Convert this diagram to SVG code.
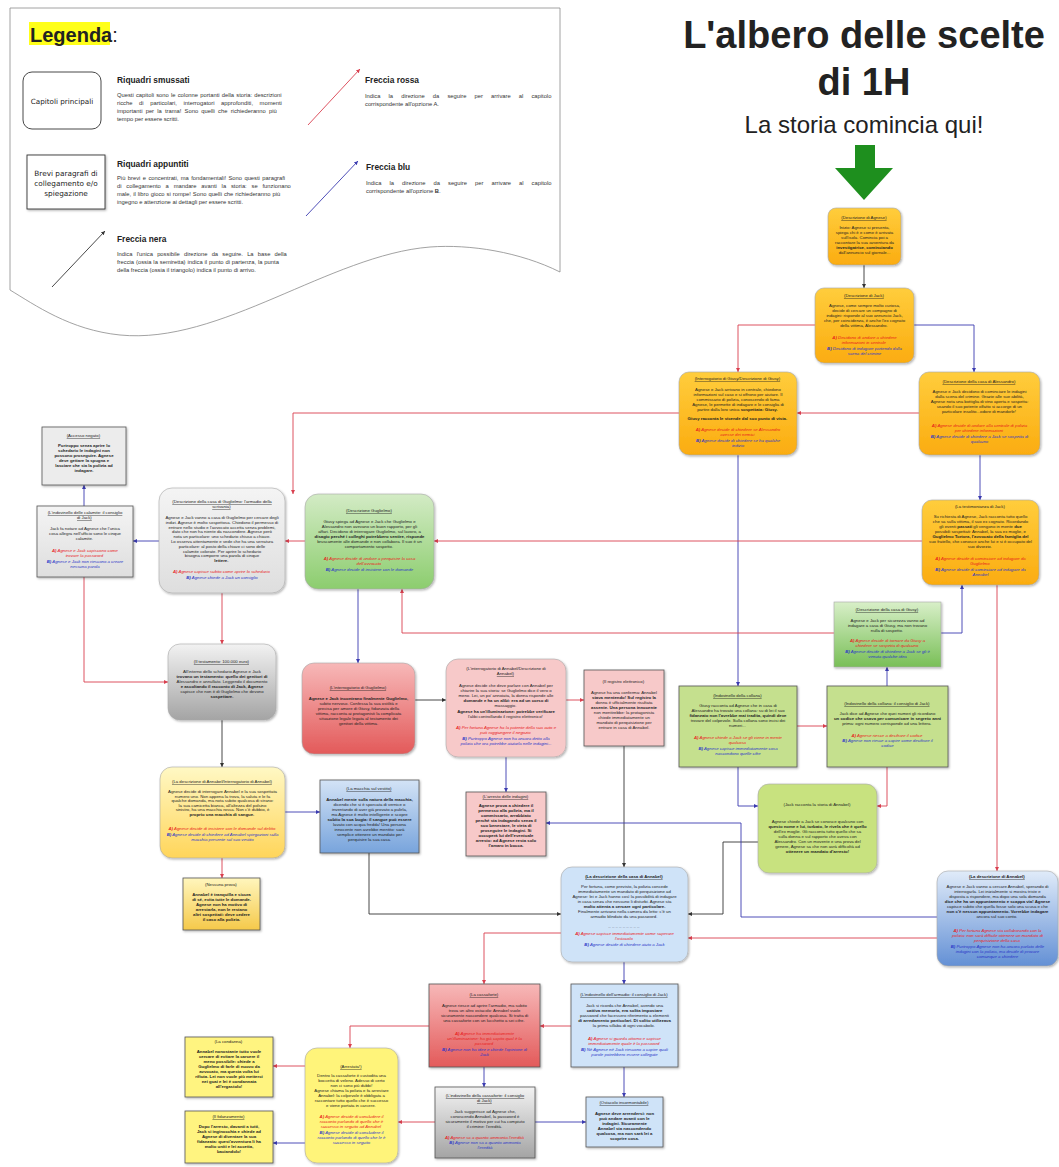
<svg xmlns="http://www.w3.org/2000/svg" width="1059" height="1167" viewBox="0 0 1059 1167">
<style>
.t{font-family:"Liberation Sans",Arial,sans-serif;font-size:4.3px;text-anchor:middle;fill:#222}
.u{text-decoration:underline}
.b{font-weight:bold}
.ra{fill:#e8201c;font-style:italic}
.bl{fill:#2a35c8;font-style:italic}
.lg{font-family:"Liberation Sans",Arial,sans-serif;fill:#222}
.lgd{font-family:"Liberation Sans",Arial,sans-serif;font-size:5.8px;fill:#333}
.cr{stroke:#d9404f;stroke-width:0.9;fill:none;marker-end:url(#mr)}
.cb{stroke:#3b3bb0;stroke-width:0.9;fill:none;marker-end:url(#mb)}
.ck{stroke:#333;stroke-width:0.9;fill:none;marker-end:url(#mk)}
.rr{stroke:#a8a8a8;stroke-width:0.6;filter:url(#sh)}
.pr{stroke:#555;stroke-width:0.8;filter:url(#sh)}
</style>
<defs>
<filter id="sh" x="-10%" y="-10%" width="125%" height="125%"><feDropShadow dx="1" dy="1.2" stdDeviation="0.8" flood-color="#000" flood-opacity="0.3"/></filter>
<marker id="mr" markerUnits="userSpaceOnUse" markerWidth="5" markerHeight="5" refX="4" refY="2" orient="auto"><path d="M0,0 L4,2 L0,4 z" fill="#d9404f"/></marker>
<marker id="mb" markerUnits="userSpaceOnUse" markerWidth="5" markerHeight="5" refX="4" refY="2" orient="auto"><path d="M0,0 L4,2 L0,4 z" fill="#3b3bb0"/></marker>
<marker id="mk" markerUnits="userSpaceOnUse" markerWidth="5" markerHeight="5" refX="4" refY="2" orient="auto"><path d="M0,0 L4,2 L0,4 z" fill="#333"/></marker>
<linearGradient id="gOr" x1="0" y1="0" x2="0" y2="1"><stop offset="0" stop-color="#ffcd3c"/><stop offset="1" stop-color="#fbac10"/></linearGradient>
<linearGradient id="gGr" x1="0" y1="0" x2="0" y2="1"><stop offset="0" stop-color="#d3ebc5"/><stop offset="1" stop-color="#8ccd6e"/></linearGradient>
<linearGradient id="gGr2" x1="0" y1="0" x2="0" y2="1"><stop offset="0" stop-color="#d8efc8"/><stop offset="1" stop-color="#79bf57"/></linearGradient>
<linearGradient id="gRd" x1="0" y1="0" x2="0" y2="1"><stop offset="0" stop-color="#f7b8b8"/><stop offset="1" stop-color="#e35a5a"/></linearGradient>
<linearGradient id="gGy1" x1="0" y1="0" x2="0" y2="1"><stop offset="0" stop-color="#f4f4f4"/><stop offset="1" stop-color="#dedede"/></linearGradient>
<linearGradient id="gGy2" x1="0" y1="0" x2="0" y2="1"><stop offset="0" stop-color="#f2f2f2"/><stop offset="1" stop-color="#a4a4a4"/></linearGradient>
<linearGradient id="gYl" x1="0" y1="0" x2="0" y2="1"><stop offset="0" stop-color="#fff8c4"/><stop offset="1" stop-color="#ffd55a"/></linearGradient>
<linearGradient id="gYl2" x1="0" y1="0" x2="0" y2="1"><stop offset="0" stop-color="#fff6bd"/><stop offset="1" stop-color="#f5c94a"/></linearGradient>
<linearGradient id="gBl" x1="0" y1="0" x2="0" y2="1"><stop offset="0" stop-color="#d3e3f6"/><stop offset="1" stop-color="#78a4dc"/></linearGradient>
<linearGradient id="gBl2" x1="0" y1="0" x2="0" y2="1"><stop offset="0" stop-color="#e0ebf9"/><stop offset="1" stop-color="#6390d5"/></linearGradient>
</defs>
<rect width="1059" height="1167" fill="#fff"/>

<!-- Legend -->
<g id="legend">
<path d="M10,8 L560,8 L560,272 C520,252 470,244 430,247 C330,255 220,345 120,335 C70,330 35,305 10,290 Z" fill="#fff" stroke="#8a8a8a" stroke-width="0.8"/>
<rect x="29" y="22" width="81" height="23" fill="#ffff1a"/>
<text class="lg" x="30" y="42" font-size="20" font-weight="bold">Legenda<tspan font-weight="normal">:</tspan></text>
<rect x="23" y="72" width="78" height="57" rx="9" fill="#fff" stroke="#333" stroke-width="0.9"/>
<text x="62" y="104" font-family="DejaVu Sans, sans-serif" font-size="7.2" text-anchor="middle" fill="#222">Capitoli principali</text>
<rect x="27" y="155" width="78" height="54" fill="#fff" stroke="#333" stroke-width="0.9" filter="url(#sh)"/>
<text font-family="DejaVu Sans, sans-serif" font-size="7.3" text-anchor="middle" fill="#222"><tspan x="66" y="176">Brevi paragrafi di</tspan><tspan x="66" y="186">collegamento e/o</tspan><tspan x="66" y="196">spiegazione</tspan></text>
<text class="lg" x="117" y="83" font-size="8.4" font-weight="bold">Riquadri smussati</text>
<text class="lgd"><tspan x="117" y="97" word-spacing="0.6">Questi capitoli sono le colonne portanti della storia: descrizioni</tspan><tspan x="117" y="105" word-spacing="5">ricche di particolari, interrogatori approfonditi, momenti</tspan><tspan x="117" y="113" word-spacing="1.6">importanti per la trama! Sono quelli che richiederanno più</tspan><tspan x="117" y="121">tempo per essere scritti.</tspan></text>
<text class="lg" x="117" y="167" font-size="8.4" font-weight="bold">Riquadri appuntiti</text>
<text class="lgd"><tspan x="117" y="180" word-spacing="0.8">Più brevi e concentrati, ma fondamentali! Sono questi paragrafi</tspan><tspan x="117" y="188" word-spacing="3.2">di collegamento a mandare avanti la storia: se funzionano</tspan><tspan x="117" y="196" word-spacing="0.4">male, il libro gioco si rompe! Sono quelli che richiederanno più</tspan><tspan x="117" y="204">ingegno e attenzione ai dettagli per essere scritti.</tspan></text>
<text class="lg" x="117" y="242" font-size="8.4" font-weight="bold">Freccia nera</text>
<text class="lgd"><tspan x="117" y="256" word-spacing="2.6">Indica l'unica possibile direzione da seguire. La base della</tspan><tspan x="117" y="264" word-spacing="0.3">freccia (ossia la semiretta) indica il punto di partenza, la punta</tspan><tspan x="117" y="272">della freccia (ossia il triangolo) indica il punto di arrivo.</tspan></text>
<text class="lg" x="365" y="83" font-size="8.4" font-weight="bold">Freccia rossa</text>
<text class="lgd"><tspan x="365" y="98" word-spacing="6.5">Indica la direzione da seguire per arrivare al capitolo</tspan><tspan x="365" y="106">corrispondente all'opzione A.</tspan></text>
<text class="lg" x="366" y="170" font-size="8.4" font-weight="bold">Freccia blu</text>
<text class="lgd"><tspan x="366" y="185" word-spacing="6.4">Indica la direzione da seguire per arrivare al capitolo</tspan><tspan x="366" y="193">corrispondente all'opzione <tspan font-weight="bold">B</tspan>.</tspan></text>
<line x1="52" y1="287" x2="105" y2="231" class="ck" stroke-width="0.7"/>
<line x1="308" y1="125" x2="360" y2="69" class="cr" stroke-width="0.7"/>
<line x1="306" y1="216" x2="358" y2="161" class="cb" stroke-width="0.7"/>
</g>

<!-- Title -->
<g id="title">
<text class="lg" x="864" y="48" font-size="38" font-weight="bold" text-anchor="middle" fill="#111">L'albero delle scelte</text>
<text class="lg" x="864" y="95" font-size="38" font-weight="bold" text-anchor="middle" fill="#111">di 1H</text>
<text class="lg" x="864" y="133" font-size="24" text-anchor="middle" fill="#111">La storia comincia qui!</text>
<polygon points="855,145 875,145 875,168 893,168 864,200 835,168 855,168" fill="#1e8f1e"/>
</g>

<!-- Connectors -->
<g id="connectors">
<path class="ck" d="M864,265 V288"/>
<path class="cr" d="M815,325 H738 V372"/>
<path class="cb" d="M914,325 H974 V372"/>
<path class="cr" d="M919,413 H797"/>
<path class="cr" d="M679,413 H293 V494"/>
<path class="cb" d="M738,455 V686"/>
<path class="cb" d="M980,455 V500"/>
<path class="cr" d="M922,541 H434"/>
<path class="cr" d="M997,585 V871"/>
<path class="cr" d="M305,541 H285"/>
<path class="cb" d="M358,589 V663"/>
<path class="cr" d="M834,633 H402 V589"/>
<path class="cb" d="M941,633 H962 V585"/>
<path class="cb" d="M159,541 H133"/>
<path class="cr" d="M222,593 V644"/>
<path class="cb" d="M84,506 V485"/>
<path class="cr" d="M84,577 V682 H168"/>
<path class="ck" d="M222,720 V767"/>
<path class="cb" d="M285,812 H320"/>
<path class="cr" d="M222,858 V878"/>
<path class="ck" d="M369,853 V914 H561"/>
<path class="ck" d="M415,700 H446"/>
<path class="cr" d="M566,700 H584"/>
<path class="cb" d="M506,757 V792"/>
<path class="ck" d="M624,746 V867"/>
<path class="cr" d="M797,726 H827"/>
<path class="cb" d="M738,767 V806 H758"/>
<path class="cb" d="M887,686 V667"/>
<path class="cr" d="M887,767 V806 H877"/>
<path class="ck" stroke="#777" d="M758,842 H723 V914 H688"/>
<path class="cb" d="M937,917 H741 V823 H546"/>
<path class="cr" d="M937,938 H688"/>
<path class="cr" d="M561,933 H484 V984"/>
<path class="cb" d="M624,962 V984"/>
<path class="cr" d="M571,1026 H540"/>
<path class="cb" d="M624,1067 V1097"/>
<path class="cb" d="M484,1067 V1087"/>
<path class="cr" d="M429,1026 H350 V1048"/>
<path class="cr" d="M435,1122 H398"/>
<path class="cb" d="M535,1122 H586"/>
<path class="cr" d="M305,1066 H273"/>
<path class="cb" d="M305,1143 H273"/>
</g>

<!-- Nodes -->
<g id="n-agnese">
<rect x="828" y="208" width="73" height="57" rx="8" fill="url(#gOr)" class="rr"/>
<text class="t"><tspan x="864.5" y="219" class="u">(Descrizione di Agnese)</tspan>
<tspan x="864.5" y="229">Inizio: Agnese si presenta,</tspan><tspan x="864.5" y="234">spiega chi è e come è arrivata</tspan><tspan x="864.5" y="239">sull'isola. Comincia poi a</tspan><tspan x="864.5" y="244">raccontare la sua avventura da</tspan><tspan x="864.5" y="249" class="b">investigatrice, cominciando</tspan><tspan x="864.5" y="254">dall'annuncio sul giornale...</tspan></text>
</g>

<g id="n-jack">
<rect x="815" y="288" width="99" height="75" rx="9" fill="url(#gOr)" class="rr"/>
<text class="t"><tspan x="864.5" y="297" class="u">(Descrizione di Jack)</tspan>
<tspan x="864.5" y="307">Agnese, come sempre molto curiosa,</tspan><tspan x="864.5" y="312">decide di cercare un compagno di</tspan><tspan x="864.5" y="317">indagini: risponde al suo annuncio Jack,</tspan><tspan x="864.5" y="322">che, per coincidenza, è anche l'ex cognato</tspan><tspan x="864.5" y="327">della vittima, Alessandro.</tspan>
<tspan x="864.5" y="339" class="ra"><tspan class="b">A)</tspan> Decidono di andare a chiedere</tspan><tspan x="864.5" y="344" class="ra">informazioni in centrale</tspan>
<tspan x="864.5" y="350" class="bl" fill="#1c1c70"><tspan class="b">B)</tspan> Decidono di indagare partendo dalla</tspan><tspan x="864.5" y="355" class="bl" fill="#1c1c70">scena del crimine</tspan></text>
</g>

<g id="n-giusy">
<rect x="679" y="372" width="118" height="83" rx="10" fill="url(#gOr)" class="rr"/>
<text class="t"><tspan x="738" y="380" class="u">(Interrogatorio di Giusy/Descrizione di Giusy)</tspan>
<tspan x="738" y="391">Agnese e Jack arrivano in centrale, chiedono</tspan><tspan x="738" y="396">informazioni sul caso e si offrono per aiutare. Il</tspan><tspan x="738" y="401">commissario di polizia, conoscendo di fama</tspan><tspan x="738" y="406">Agnese, le permette di indagare e le consiglia di</tspan><tspan x="738" y="411">partire dalla loro unica <tspan class="b">sospettata: Giusy.</tspan></tspan>
<tspan x="738" y="420" class="b">Giusy racconta le vicende dal suo punto di vista.</tspan>
<tspan x="738" y="431" class="ra"><tspan class="b">A)</tspan> Agnese decide di chiedere se Alessandro</tspan><tspan x="738" y="436" class="ra">avesse dei nemici</tspan>
<tspan x="738" y="442" class="bl"><tspan class="b">B)</tspan> Agnese decide di chiedere se ha qualche</tspan><tspan x="738" y="447" class="bl">indizio</tspan></text>
</g>

<g id="n-casa-alessandro">
<rect x="919" y="372" width="121" height="83" rx="10" fill="url(#gOr)" class="rr"/>
<text class="t"><tspan x="979.5" y="383" class="u">(Descrizione della casa di Alessandro)</tspan>
<tspan x="979.5" y="393">Agnese e Jack decidono di cominciare le indagini</tspan><tspan x="979.5" y="398">dalla scena del crimine. Grazie alle sue abilità,</tspan><tspan x="979.5" y="403">Agnese nota una bottiglia di vino aperta e sospetta:</tspan><tspan x="979.5" y="408">usando il suo potente olfatto si accorge di un</tspan><tspan x="979.5" y="413">particolare insolito...odore di mandorle!</tspan>
<tspan x="979.5" y="427" class="ra"><tspan class="b">A)</tspan> Agnese decide di andare alla centrale di polizia</tspan><tspan x="979.5" y="432" class="ra">per chiedere informazioni</tspan>
<tspan x="979.5" y="438" class="bl" fill="#1c1c70"><tspan class="b">B)</tspan> Agnese decide di chiedere a Jack se sospetta di</tspan><tspan x="979.5" y="443" class="bl" fill="#1c1c70">qualcuno</tspan></text>
</g>

<g id="n-testimonianza">
<rect x="922" y="500" width="117" height="85" rx="10" fill="url(#gOr)" class="rr"/>
<text class="t"><tspan x="980.5" y="508">(La testimonianza di Jack)</tspan>
<tspan x="980.5" y="518">Su richiesta di Agnese, Jack racconta tutto quello</tspan><tspan x="980.5" y="523">che sa sulla vittima, il suo ex cognato. Ricordando</tspan><tspan x="980.5" y="528">gli eventi <tspan class="b">passati</tspan> gli vengono in mente <tspan class="b">due</tspan></tspan><tspan x="980.5" y="533">possibili sospettati: Annabel, la sua ex moglie, e</tspan><tspan x="980.5" y="538" class="b">Guglielmo Tortora, l'avvocato della famiglia del</tspan><tspan x="980.5" y="543">suo fratello, che conosce anche lui e si è occupato del</tspan><tspan x="980.5" y="548">suo divorzio.</tspan>
<tspan x="980.5" y="560" class="ra"><tspan class="b">A)</tspan> Agnese decide di cominciare ad indagare da</tspan><tspan x="980.5" y="565" class="ra">Guglielmo</tspan>
<tspan x="980.5" y="571" class="bl"><tspan class="b">B)</tspan> Agnese decide di cominciare ad indagare da</tspan><tspan x="980.5" y="576" class="bl">Annabel</tspan></text>
</g>

<g id="n-casa-giusy">
<rect x="834" y="602" width="107" height="65" fill="url(#gGr2)" class="rr"/>
<text class="t"><tspan x="887.5" y="611" class="u">(Descrizione della casa di Giusy)</tspan>
<tspan x="887.5" y="622">Agnese e Jack per sicurezza vanno ad</tspan><tspan x="887.5" y="627">indagare a casa di Giusy, ma non trovano</tspan><tspan x="887.5" y="632">nulla di sospetto.</tspan>
<tspan x="887.5" y="642" class="ra"><tspan class="b">A)</tspan> Agnese decide di tornare da Giusy a</tspan><tspan x="887.5" y="647" class="ra">chiedere se sospetta di qualcuno</tspan>
<tspan x="887.5" y="653" class="bl"><tspan class="b">B)</tspan> Agnese decide di chiedere a Jack se gli è</tspan><tspan x="887.5" y="658" class="bl">venuta qualche idea</tspan></text>
</g>

<g id="n-collana">
<rect x="679" y="686" width="118" height="81" fill="#c5e08e" class="pr"/>
<text class="t"><tspan x="738" y="697" class="u">(Indovinello della collana)</tspan>
<tspan x="738" y="707">Giusy racconta ad Agnese che in casa di</tspan><tspan x="738" y="712">Alessandro ha trovato una collana: su di lei il suo</tspan><tspan x="738" y="717" class="b">fidanzato non l'avrebbe mai tradita, quindi deve</tspan><tspan x="738" y="722">trovare del colpevole. Sulla collana sono incisi dei</tspan><tspan x="738" y="727">numeri...</tspan>
<tspan x="738" y="739" class="ra"><tspan class="b">A)</tspan> Agnese chiede a Jack se gli viene in mente</tspan><tspan x="738" y="744" class="ra">qualcosa</tspan>
<tspan x="738" y="750" class="bl"><tspan class="b">B)</tspan> Agnese capisce immediatamente cosa</tspan><tspan x="738" y="755" class="bl" fill="#1c1c70">nascondono quelle cifre</tspan></text>
</g>

<g id="n-consiglio-collana">
<rect x="827" y="686" width="121" height="81" fill="#c5e08e" class="pr"/>
<text class="t"><tspan x="887.5" y="705" class="u">(Indovinello della collana: il consiglio di Jack)</tspan>
<tspan x="887.5" y="715">Jack dice ad Agnese che quei numeri gli ricordano</tspan><tspan x="887.5" y="720" class="b">un codice che usava per comunicare in segreto anni</tspan><tspan x="887.5" y="725">prima: ogni numero corrisponde ad una lettera.</tspan>
<tspan x="887.5" y="737" class="ra"><tspan class="b">A)</tspan> Agnese riesce a decifrare il codice</tspan>
<tspan x="887.5" y="742" class="bl"><tspan class="b">B)</tspan> Agnese non riesce a capire come decifrare il</tspan><tspan x="887.5" y="747" class="bl">codice</tspan></text>
</g>

<g id="n-jack-annabel">
<rect x="758" y="784" width="119" height="89" rx="11" fill="#c8e27f" class="rr"/>
<text class="t"><tspan x="817.5" y="806">(Jack racconta la storia di Annabel)</tspan>
<tspan x="817.5" y="823">Agnese chiede a Jack se conosce qualcuno con</tspan><tspan x="817.5" y="828" class="b">questo nome e lui, turbato, le rivela che è quello</tspan><tspan x="817.5" y="833">dell'ex moglie. Gli racconta tutto quello che sa</tspan><tspan x="817.5" y="838">sulla donna e sul rapporto che aveva con</tspan><tspan x="817.5" y="843">Alessandro. Con un movente e una prova del</tspan><tspan x="817.5" y="848">genere, Agnese sa che non avrà difficoltà ad</tspan><tspan x="817.5" y="853" class="b">ottenere un mandato d'arresto!</tspan></text>
</g>

<g id="n-desc-annabel">
<rect x="937" y="871" width="121" height="95" rx="11" fill="url(#gBl2)" class="rr"/>
<text class="t"><tspan x="997.5" y="878" class="u b">(La descrizione di Annabel)</tspan>
<tspan x="997.5" y="888">Agnese e Jack vanno a cercare Annabel, sperando di</tspan><tspan x="997.5" y="893">interrogarla. Lei inizialmente si mostra triste e</tspan><tspan x="997.5" y="898">disposta a rispondere, ma dopo una sola domanda</tspan><tspan x="997.5" y="903" class="b">dice che ha un appuntamento e scappa via! Agnese</tspan><tspan x="997.5" y="908">capisce subito che quella fosse solo una scusa e che</tspan><tspan x="997.5" y="913" class="b">non c'è nessun appuntamento. Vorrebbe indagare</tspan><tspan x="997.5" y="918">ancora sul suo conto.</tspan>
<tspan x="997.5" y="932" class="ra"><tspan class="b">A)</tspan> Per fortuna Agnese sta collaborando con la</tspan><tspan x="997.5" y="937" class="ra">polizia: non sarà difficile ottenere un mandato di</tspan><tspan x="997.5" y="942" class="ra">perquisizione della casa</tspan>
<tspan x="997.5" y="948" class="bl"><tspan class="b">B)</tspan> Purtroppo Agnese non ha ancora parlato delle</tspan><tspan x="997.5" y="953" class="bl">indagini con la polizia, ma decide di provare</tspan><tspan x="997.5" y="958" class="bl">comunque a chiedere</tspan></text>
</g>

<g id="n-casa-annabel">
<rect x="561" y="867" width="127" height="95" rx="11" fill="#cfe3f8" class="rr" stroke="#888"/>
<text class="t"><tspan x="624.5" y="878" class="u b">(La descrizione della casa di Annabel)</tspan>
<tspan x="624.5" y="888">Per fortuna, come previsto, la polizia concede</tspan><tspan x="624.5" y="893">immediatamente un mandato di perquisizione ad</tspan><tspan x="624.5" y="898">Agnese: lei e Jack hanno così la possibilità di indagare</tspan><tspan x="624.5" y="903">in casa senza che nessuno li disturbi. Agnese sta</tspan><tspan x="624.5" y="908" class="b">molto attenta a cercare ogni particolare.</tspan><tspan x="624.5" y="913">Finalmente arrivano nella camera da letto: c'è un</tspan><tspan x="624.5" y="918">armadio blindato da una password.</tspan>
<tspan x="624.5" y="927" class="b">_ _ _ _ _ _ _ _ _</tspan>
<tspan x="624.5" y="935" class="ra"><tspan class="b">A)</tspan> Agnese capisce immediatamente come superare</tspan><tspan x="624.5" y="940" class="ra">l'ostacolo</tspan>
<tspan x="624.5" y="946" class="bl"><tspan class="b">B)</tspan> Agnese decide di chiedere aiuto a Jack</tspan></text>
</g>

<g id="n-armadio">
<rect x="571" y="984" width="107" height="83" fill="#cfe3f8" class="pr"/>
<text class="t"><tspan x="624.5" y="996" class="u">(L'indovinello dell'armadio: il consiglio di Jack)</tspan>
<tspan x="624.5" y="1007">Jack si ricorda che Annabel, avendo una</tspan><tspan x="624.5" y="1012" class="b">cattiva memoria, era solita impostare</tspan><tspan x="624.5" y="1017">password che facessero riferimento a elementi</tspan><tspan x="624.5" y="1022" class="b">di arredamento particolari. Di solito utilizzava</tspan><tspan x="624.5" y="1027">la prima sillaba di ogni vocabolo.</tspan>
<tspan x="624.5" y="1040" class="ra"><tspan class="b">A)</tspan> Agnese si guarda attorno e capisce</tspan><tspan x="624.5" y="1045" class="ra">immediatamente quale è la password</tspan>
<tspan x="624.5" y="1051" class="bl"><tspan class="b">B)</tspan> Né Agnese né Jack riescono a capire quali</tspan><tspan x="624.5" y="1056" class="bl">parole potrebbero essere collegate</tspan></text>
</g>

<g id="n-cassaforte">
<rect x="429" y="984" width="111" height="83" fill="url(#gRd)" class="pr" stroke="#b55"/>
<text class="t"><tspan x="484.5" y="996" class="u">(La cassaforte)</tspan>
<tspan x="484.5" y="1007">Agnese riesce ad aprire l'armadio, ma subito</tspan><tspan x="484.5" y="1012">trova un altro ostacolo: Annabel vuole</tspan><tspan x="484.5" y="1017">sicuramente nascondere qualcosa. Si tratta di</tspan><tspan x="484.5" y="1022">una cassaforte con un lucchetto a sei cifre.</tspan>
<tspan x="484.5" y="1035" class="ra"><tspan class="b">A)</tspan> Agnese ha immediatamente</tspan><tspan x="484.5" y="1040" class="ra">un'illuminazione: ha già capito qual è la</tspan><tspan x="484.5" y="1045" class="ra">password</tspan>
<tspan x="484.5" y="1051" class="bl"><tspan class="b">B)</tspan> Agnese non ha idee e chiede l'opinione di</tspan><tspan x="484.5" y="1056" class="bl">Jack</tspan></text>
</g>

<g id="n-indovinello-cassaforte">
<rect x="435" y="1087" width="100" height="71" fill="url(#gGy2)" class="pr"/>
<text class="t"><tspan x="485" y="1097" class="u">(L'indovinello della cassaforte: il consiglio</tspan><tspan x="485" y="1102" class="u">di Jack)</tspan>
<tspan x="485" y="1113">Jack suggerisce ad Agnese che,</tspan><tspan x="485" y="1118">conoscendo Annabel, la password è</tspan><tspan x="485" y="1123">sicuramente il motivo per cui ha compiuto</tspan><tspan x="485" y="1128">il crimine: l'eredità.</tspan>
<tspan x="485" y="1139" class="ra"><tspan class="b">A)</tspan> Agnese sa a quanto ammonta l'eredità</tspan>
<tspan x="485" y="1144" class="bl"><tspan class="b">B)</tspan> Agnese non sa a quanto ammonta</tspan><tspan x="485" y="1149" class="bl">l'eredità</tspan></text>
</g>

<g id="n-ostacolo">
<rect x="586" y="1097" width="77" height="50" fill="#cfe3f8" class="pr"/>
<text class="t"><tspan x="624.5" y="1104" class="u">(Ostacolo insormontabile)</tspan>
<tspan class="b" x="624.5" y="1115">Agnese deve arrendersi: non</tspan><tspan class="b" x="624.5" y="1120">può andare avanti con le</tspan><tspan class="b" x="624.5" y="1125">indagini. Sicuramente</tspan><tspan class="b" x="624.5" y="1130">Annabel sta nascondendo</tspan><tspan class="b" x="624.5" y="1135">qualcosa, ma non sarà lei a</tspan><tspan class="b" x="624.5" y="1140">scoprire cosa.</tspan></text>
</g>

<g id="n-arrestata">
<rect x="305" y="1048" width="93" height="115" rx="12" fill="#fff47a" class="rr"/>
<text class="t"><tspan x="351.5" y="1068" class="u">(Arrestata!)</tspan>
<tspan x="351.5" y="1077">Dentro la cassaforte è custodita una</tspan><tspan x="351.5" y="1082">boccetta di veleno. Adesso di certo</tspan><tspan x="351.5" y="1087">non ci sono più dubbi!</tspan><tspan x="351.5" y="1092">Agnese chiama la polizia e fa arrestare</tspan><tspan x="351.5" y="1097">Annabel: la colpevole è obbligata a</tspan><tspan x="351.5" y="1102">raccontare tutto quello che è successo</tspan><tspan x="351.5" y="1107">e viene portata in carcere.</tspan>
<tspan x="351.5" y="1118" class="ra"><tspan class="b">A)</tspan> Agnese decide di concludere il</tspan><tspan x="351.5" y="1123" class="ra">racconto parlando di quello che è</tspan><tspan x="351.5" y="1128" class="ra">successo in seguito ad Annabel</tspan>
<tspan x="351.5" y="1134" class="bl"><tspan class="b">B)</tspan> Agnese decide di concludere il</tspan><tspan x="351.5" y="1139" class="bl">racconto parlando di quello che le è</tspan><tspan x="351.5" y="1144" class="bl">successo in seguito</tspan></text>
</g>

<g id="n-condanna">
<rect x="185" y="1037" width="88" height="60" fill="#fff480" class="pr"/>
<text class="t"><tspan x="229" y="1043">(La condanna)</tspan>
<tspan class="b" x="229" y="1053">Annabel nonostante tutto vuole</tspan><tspan class="b" x="229" y="1058">cercare di evitare la carcere il</tspan><tspan class="b" x="229" y="1063">meno possibile: chiede a</tspan><tspan class="b" x="229" y="1068">Guglielmo di farle di nuovo da</tspan><tspan class="b" x="229" y="1073">avvocato, ma questa volta lui</tspan><tspan class="b" x="229" y="1078">rifiuta. Lei non vuole più metterci</tspan><tspan class="b" x="229" y="1083">nei guai e lei è condannata</tspan><tspan class="b" x="229" y="1088">all'ergastolo!</tspan></text>
</g>

<g id="n-fidanzamento">
<rect x="185" y="1111" width="88" height="52" fill="#fff480" class="pr"/>
<text class="t"><tspan x="229" y="1118" class="u">(Il fidanzamento)</tspan>
<tspan class="b" x="229" y="1128">Dopo l'arresto, davanti a tutti,</tspan><tspan class="b" x="229" y="1133">Jack si inginocchia e chiede ad</tspan><tspan class="b" x="229" y="1138">Agnese di diventare la sua</tspan><tspan class="b" x="229" y="1143">fidanzata: quest'avventura li ha</tspan><tspan class="b" x="229" y="1148">molto uniti e lei accetta,</tspan><tspan class="b" x="229" y="1153">baciandolo!</tspan></text>
</g>

<g id="n-interrogatorio-guglielmo">
<rect x="302" y="663" width="113" height="91" rx="12" fill="url(#gRd)" class="rr"/>
<text class="t"><tspan x="358.5" y="689" class="u">(L'interrogatorio di Guglielmo)</tspan>
<tspan x="358.5" y="700" class="b">Agnese e Jack incontrano finalmente Guglielmo,</tspan><tspan x="358.5" y="705">subito nervoso. Confessa la sua ostilità e</tspan><tspan x="358.5" y="710">precisa per amore di Giusy, fidanzata della</tspan><tspan x="358.5" y="715">vittima, racconta ai protagonisti la complicata</tspan><tspan x="358.5" y="720">situazione legale legata al testamento dei</tspan><tspan x="358.5" y="725">genitori della vittima.</tspan></text>
</g>

<g id="n-interrogatorio-annabel">
<rect x="446" y="659" width="120" height="98" rx="12" fill="#f7c9c9" class="rr" stroke="#999"/>
<text class="t"><tspan x="506" y="670">(L'interrogatorio di Annabel/Descrizione di</tspan><tspan x="506" y="675" class="u">Annabel)</tspan>
<tspan x="506" y="687">Agnese decide che deve parlare con Annabel per</tspan><tspan x="506" y="692">chiarire la sua storia: se Guglielmo dice il vero o</tspan><tspan x="506" y="697">meno. Lei, un po' annoiata, la donna risponde alle</tspan><tspan x="506" y="702" class="b">domande e ha un alibi: era ad un corso di</tspan><tspan x="506" y="707">massaggio.</tspan>
<tspan x="506" y="713" class="b">Agnese ha un'illuminazione: potrebbe verificare</tspan><tspan x="506" y="718">l'alibi controllando il registro elettronico!</tspan>
<tspan x="506" y="729" class="ra"><tspan class="b">A)</tspan> Per fortuna Agnese ha la patente della sua auto e</tspan><tspan x="506" y="734" class="ra">può raggiungere il negozio</tspan>
<tspan x="506" y="740" class="bl" fill="#5a1fd0"><tspan class="b">B)</tspan> Purtroppo Agnese non ha ancora detto alla</tspan><tspan x="506" y="745" class="bl" fill="#5a1fd0">polizia che ora potrebbe aiutarla nelle indagini...</tspan></text>
</g>

<g id="n-registro">
<rect x="584" y="670" width="80" height="76" fill="#f7c9c9" class="pr"/>
<text class="t"><tspan x="624" y="683">(Il registro elettronico)</tspan>
<tspan x="624" y="694">Agnese ha una conferma: Annabel</tspan><tspan x="624" y="699" class="b">stava mentendo! Sul registro la</tspan><tspan x="624" y="704">donna è ufficialmente risultata</tspan><tspan x="624" y="709" class="b">assente. Una persona innocente</tspan><tspan x="624" y="714">non mentirebbe: la protagonista</tspan><tspan x="624" y="719">chiede immediatamente un</tspan><tspan x="624" y="724">mandato di perquisizione per</tspan><tspan x="624" y="729">entrare in casa di Annabel.</tspan></text>
</g>

<g id="n-arresto-indagini">
<rect x="466" y="792" width="80" height="64" fill="#f7c9c9" class="pr"/>
<text class="t"><tspan x="506" y="798" class="u">(L'arresto delle indagini)</tspan>
<tspan class="b" x="506" y="807">Agnese prova a chiedere il</tspan><tspan class="b" x="506" y="812">permesso alla polizia, ma il</tspan><tspan class="b" x="506" y="817">commissario, arrabbiato</tspan><tspan class="b" x="506" y="822">perché sta indagando senza il</tspan><tspan class="b" x="506" y="827">suo benestare, le vieta di</tspan><tspan class="b" x="506" y="832">proseguire le indagini. Si</tspan><tspan class="b" x="506" y="837">occuperà lui dell'eventuale</tspan><tspan class="b" x="506" y="842">arresto: ad Agnese resta solo</tspan><tspan class="b" x="506" y="847">l'amaro in bocca.</tspan></text>
</g>

<g id="n-desc-guglielmo">
<rect x="305" y="494" width="129" height="95" rx="13" fill="url(#gGr)" class="rr"/>
<text class="t"><tspan x="369.5" y="512" class="u">(Descrizione Guglielmo)</tspan>
<tspan x="369.5" y="523">Giusy spiega ad Agnese e Jack che Guglielmo e</tspan><tspan x="369.5" y="528">Alessandro non avevano un buon rapporto, per gli</tspan><tspan x="369.5" y="533">affari. Decidono di interrogare Guglielmo, sul lavoro, a</tspan><tspan x="369.5" y="538" class="b">disagio perché i colleghi potrebbero sentire, risponde</tspan><tspan x="369.5" y="543">bruscamente alle domande e non collabora. Il suo è un</tspan><tspan x="369.5" y="548">comportamento sospetto.</tspan>
<tspan x="369.5" y="560" class="ra"><tspan class="b">A)</tspan> Agnese decide di andare a perquisire la casa</tspan><tspan x="369.5" y="565" class="ra">dell'avvocato</tspan>
<tspan x="369.5" y="571" class="bl"><tspan class="b">B)</tspan> Agnese decide di insistere con le domande</tspan></text>
</g>

<g id="n-casa-guglielmo">
<rect x="159" y="488" width="126" height="105" rx="13" fill="url(#gGy1)" class="rr"/>
<text class="t"><tspan x="222" y="503" class="u">(Descrizione della casa di Guglielmo: l'armadio della</tspan><tspan x="222" y="508" class="u">scrivania)</tspan>
<tspan x="222" y="519">Agnese e Jack vanno a casa di Guglielmo per cercare degli</tspan><tspan x="222" y="523.8">indizi. Agnese è molto sospettosa. Chiedono il permesso di</tspan><tspan x="222" y="528.6">entrare nello studio e l'avvocato accetta senza problemi,</tspan><tspan x="222" y="533.4">dato che non ha niente da nascondere. Agnese però</tspan><tspan x="222" y="538.2">nota un particolare: uno schedario chiuso a chiave.</tspan><tspan x="222" y="543">Lo osserva attentamente e vede che ha una serratura</tspan><tspan x="222" y="547.8">particolare: al posto della chiave ci sono delle</tspan><tspan x="222" y="552.6">calamite colorate. Per aprire lo schedario</tspan><tspan x="222" y="557.4">bisogna comporre una parola di cinque</tspan><tspan x="222" y="562.2" class="b">lettere.</tspan>
<tspan x="222" y="573" class="ra"><tspan class="b">A)</tspan> Agnese capisce subito come aprire lo schedario</tspan>
<tspan x="222" y="579" class="bl"><tspan class="b">B)</tspan> Agnese chiede a Jack un consiglio</tspan></text>
</g>

<g id="n-calamite">
<rect x="37" y="506" width="96" height="71" fill="url(#gGy1)" class="pr"/>
<text class="t"><tspan x="85" y="514" class="u">(L'indovinello delle calamite: il consiglio</tspan><tspan x="85" y="519" class="u">di Jack)</tspan>
<tspan x="85" y="530">Jack fa notare ad Agnese che l'unica</tspan><tspan x="85" y="535">cosa allegra nell'ufficio sono le cinque</tspan><tspan x="85" y="540">calamite.</tspan>
<tspan x="85" y="552" class="ra"><tspan class="b">A)</tspan> Agnese e Jack capiscono come</tspan><tspan x="85" y="557" class="ra">trovare la password</tspan>
<tspan x="85" y="563" class="bl"><tspan class="b">B)</tspan> Agnese e Jack non riescono a creare</tspan><tspan x="85" y="568" class="bl">nessuna parola</tspan></text>
</g>

<g id="n-accesso-negato">
<rect x="42" y="427" width="84" height="58" fill="#ececec" class="pr"/>
<text class="t"><tspan x="84" y="437" class="u">(Accesso negato)</tspan>
<tspan class="b" x="84" y="447">Purtroppo senza aprire lo</tspan><tspan class="b" x="84" y="452">schedario le indagini non</tspan><tspan class="b" x="84" y="457">possono proseguire. Agnese</tspan><tspan class="b" x="84" y="462">deve gettare la spugna e</tspan><tspan class="b" x="84" y="467">lasciare che sia la polizia ad</tspan><tspan class="b" x="84" y="472">indagare.</tspan></text>
</g>

<g id="n-testamento">
<rect x="168" y="644" width="108" height="76" rx="12" fill="url(#gGy2)" class="rr"/>
<text class="t"><tspan x="222" y="663" class="u">(Il testamento: 100.000 euro)</tspan>
<tspan x="222" y="673">All'interno dello schedario Agnese e Jack</tspan><tspan x="222" y="678" class="b">trovano un testamento: quello dei genitori di</tspan><tspan x="222" y="683">Alessandro e annullato. Leggendo il documento</tspan><tspan x="222" y="688" class="b">e ascoltando il racconto di Jack, Agnese</tspan><tspan x="222" y="693">capisce che non è di Guglielmo che devono</tspan><tspan x="222" y="698" class="b">sospettare.</tspan></text>
</g>

<g id="n-interrogatorio-annabel-2">
<rect x="160" y="767" width="125" height="91" rx="12" fill="url(#gYl)" class="rr"/>
<text class="t"><tspan x="222.5" y="783" class="u">(La descrizione di Annabel/Interrogatorio di Annabel)</tspan>
<tspan x="222.5" y="793">Agnese decide di interrogare Annabel e la sua sospettata</tspan><tspan x="222.5" y="797.5">numero uno. Non appena la trova, la saluta e le fa</tspan><tspan x="222.5" y="802">qualche domanda, ma nota subito qualcosa di strano:</tspan><tspan x="222.5" y="806.5">la sua camicetta bianca, all'altezza del polsino</tspan><tspan x="222.5" y="811">sinistro, ha una macchia rossa. Non c'è dubbio, è</tspan><tspan x="222.5" y="815.5" class="b">proprio una macchia di sangue.</tspan>
<tspan x="222.5" y="830" class="ra"><tspan class="b">A)</tspan> Agnese decide di insistere con le domande sul delitto</tspan>
<tspan x="222.5" y="836" class="bl"><tspan class="b">B)</tspan> Agnese decide di chiedere ad Annabel spiegazioni sulla</tspan><tspan x="222.5" y="841" class="bl">macchia presente sul suo vestito</tspan></text>
</g>

<g id="n-nessuna-prova">
<rect x="183" y="878" width="77" height="52" fill="url(#gYl2)" class="pr"/>
<text class="t"><tspan x="221.5" y="886">(Nessuna prova)</tspan>
<tspan class="b" x="221.5" y="896">Annabel è tranquilla e sicura</tspan><tspan class="b" x="221.5" y="901">di sé, evita tutte le domande.</tspan><tspan class="b" x="221.5" y="906">Agnese non ha motivo di</tspan><tspan class="b" x="221.5" y="911">arrestarla, non le restano</tspan><tspan class="b" x="221.5" y="916">altri sospettati: deve cedere</tspan><tspan class="b" x="221.5" y="921">il caso alla polizia.</tspan></text>
</g>

<g id="n-macchia">
<rect x="320" y="780" width="99" height="73" fill="url(#gBl)" class="pr" stroke="#7a8fb0"/>
<text class="t"><tspan x="369.5" y="790" class="u">(La macchia sul vestito)</tspan>
<tspan x="369.5" y="801" class="b">Annabel mente sulla natura della macchia,</tspan><tspan x="369.5" y="806">dicendo che si è sporcata di vernice o</tspan><tspan x="369.5" y="811">inventando di aver già provato a pulirla,</tspan><tspan x="369.5" y="816">ma Agnese è molto intelligente e scopre</tspan><tspan x="369.5" y="821" class="b">subito la sua bugia: il sangue può essere</tspan><tspan x="369.5" y="826">lavato con acqua fredda! Una persona</tspan><tspan x="369.5" y="831">innocente non avrebbe mentito: sarà</tspan><tspan x="369.5" y="836">semplice ottenere un mandato per</tspan><tspan x="369.5" y="841">perquisire la sua casa.</tspan></text>
</g>
</svg>
